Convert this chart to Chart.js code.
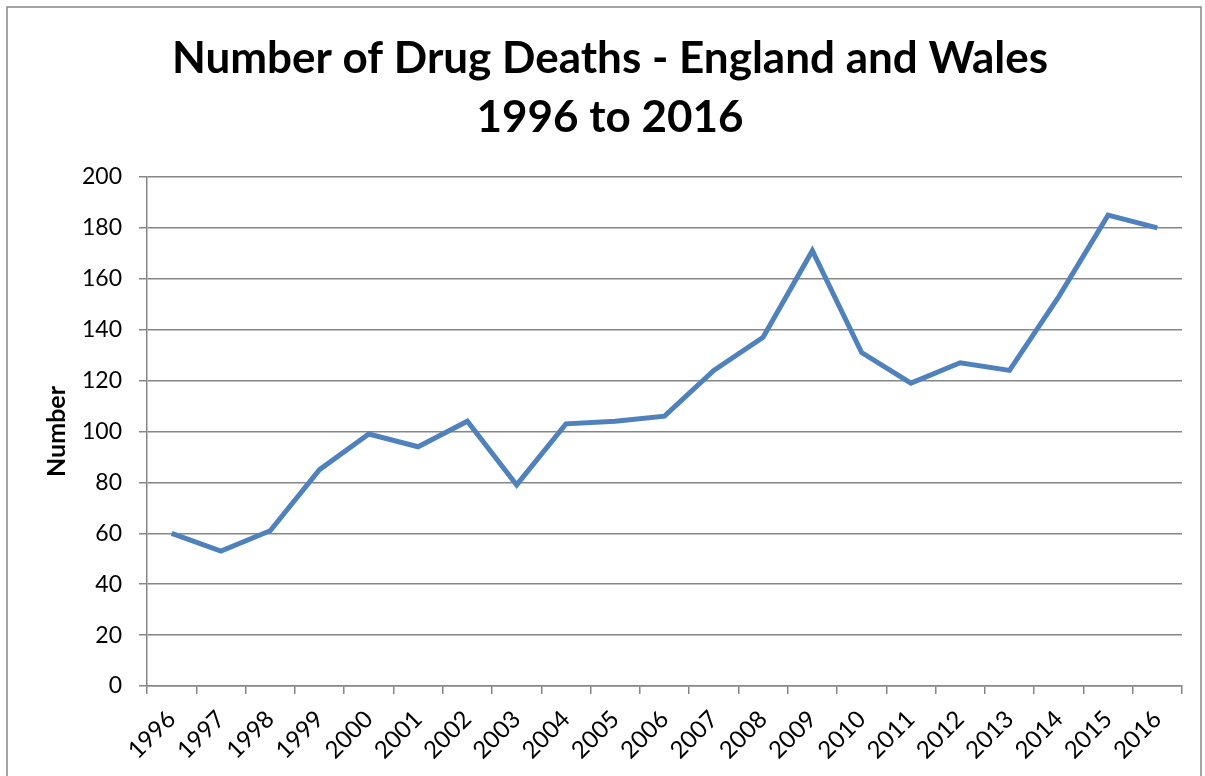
<!DOCTYPE html>
<html>
<head>
<meta charset="utf-8">
<script src="https://cdn.jsdelivr.net/npm/chart.js@4"></script>
<style>
  html, body { margin: 0; padding: 0; background: #fff; }
  #wrap { width: 1205px; height: 776px; position: relative; }
</style>
</head>
<body>
<div id="wrap"><canvas id="chart" width="1205" height="776"></canvas></div>
<script>
// dados
const years = ["1996", "1997", "1998", "1999", "2000", "2001", "2002", "2003", "2004", "2005", "2006",
  "2007", "2008", "2009", "2010", "2011", "2012", "2013", "2014", "2015", "2016"];
const deaths = [60, 53, 61, 85, 99, 94, 104, 79, 103, 104, 106, 124, 137, 171, 131, 119, 127, 124, 153, 185, 180];
const titleLines = ["Number of Drug Deaths - England and Wales", "1996 to 2016"];

const gray = "#868686";
const fontFamily = "Lato, 'Open Sans', sans-serif";

// moldura cinza em volta do gráfico
const framePlugin = {
  id: "frame",
  beforeDraw(chart) {
    const ctx = chart.ctx;
    ctx.save();
    ctx.fillStyle = "#fff";
    ctx.fillRect(0, 0, chart.width, chart.height);
    ctx.strokeStyle = gray;
    ctx.lineWidth = 1.5;
    ctx.strokeRect(7, 7, 1194, 790);
    ctx.restore();
  }
};

new Chart(document.getElementById("chart"), {
  type: "line",
  data: {
    labels: years,
    datasets: [{
      label: "Number",
      data: deaths,
      borderColor: "#4F81BD",
      borderWidth: 5,
      pointRadius: 0,
      tension: 0,
      fill: false
    }]
  },
  options: {
    responsive: false,
    animation: false,
    layout: { padding: { left: 38, right: 23, top: 8, bottom: 0 } },
    plugins: {
      legend: { display: false },
      tooltip: { enabled: false },
      title: {
        display: true,
        text: titleLines,
        color: "#000",
        font: { family: fontFamily, size: 44, weight: "bold", lineHeight: 1.34 },
        padding: { top: 21, bottom: 30 }
      }
    },
    scales: {
      x: {
        offset: true,
        grid: { drawOnChartArea: false, offset: true, tickLength: 8, color: gray, lineWidth: 1.5 },
        border: { color: gray, width: 1.5 },
        ticks: {
          color: "#000",
          font: { family: fontFamily, size: 24 },
          minRotation: 45,
          maxRotation: 45,
          padding: 11
        },
        afterFit(scale) { scale.height = 90; }
      },
      y: {
        min: 0,
        max: 200,
        ticks: {
          stepSize: 20,
          color: "#000",
          font: { family: fontFamily, size: 23 },
          padding: 17
        },
        grid: { color: gray, lineWidth: 1.5, tickLength: 8 },
        border: { color: gray, width: 1.5 },
        title: {
          display: true,
          text: "Number",
          color: "#000",
          font: { family: fontFamily, size: 25, weight: "bold" },
          padding: { top: 4, bottom: 0 }
        },
        afterFit(scale) { scale.width = 109; }
      }
    }
  },
  plugins: [framePlugin]
});
</script>
</body>
</html>
